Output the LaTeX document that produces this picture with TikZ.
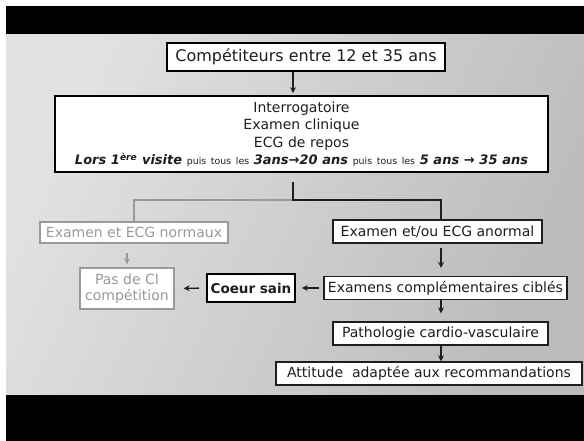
\documentclass[tikz,border=0pt]{standalone}
\usepackage{fontspec}
\setmainfont{DejaVu Sans}
\usepackage{tikz}
\usetikzlibrary{arrows.meta, positioning, calc}

\definecolor{panelLight}{HTML}{E2E2E2}
\definecolor{panelDark}{HTML}{BBBBBB}
\definecolor{inkDark}{HTML}{1E1E1E}
\definecolor{inkGrey}{HTML}{999999}

\tikzstyle{mainbox} = [
  rectangle, draw=black, fill=white, line width=1.7pt,
  text=inkDark, inner sep=0pt,
  font=\fontsize{16}{18}\selectfont
]
\tikzstyle{stepbox} = [
  rectangle, draw=inkDark, fill=white, line width=1.4pt,
  text=inkDark, inner sep=0pt, minimum height=23pt,
  font=\fontsize{14}{16}\selectfont
]
\tikzstyle{greybox} = [stepbox, draw=inkGrey, text=inkGrey, line width=1.3pt]
\tikzstyle{arrow} = [-{Stealth[length=6pt,width=6pt]}, line width=1.3pt, inkDark]
\tikzstyle{greyarrow} = [arrow, inkGrey]

\newcommand{\petit}[1]{{\fontsize{9.4}{10}\selectfont #1}}
\newcommand{\fort}[1]{{\fontsize{13}{15}\selectfont\bfseries\itshape #1}}

\begin{document}
\begin{tikzpicture}[x=1pt, y=-1pt]

  % Slide frame
  \fill[white] (0,0) rectangle (584,441);
  \fill[black] (6,6) rectangle (584,35);
  \shade[left color=panelLight, right color=panelDark, shading angle=65]
    (6,35) rectangle (584,395);
  \fill[black] (6,395) rectangle (584,441);

  % Screening
  \node[mainbox, minimum width=278pt, minimum height=28pt] (age) at (306,57)
    {Compétiteurs entre 12 et 35 ans};
  \node[mainbox, minimum width=493pt, minimum height=76pt, text width=485pt,
        align=center, font=\fontsize{14}{17.5}\selectfont] (bilan) at (301.5,134)
    {Interrogatoire\\Examen clinique\\ECG de repos\\
     \fort{Lors 1\textsuperscript{ère} visite} \petit{puis tous les}
     \fort{3ans→20 ans} \petit{puis tous les} \fort{5 ans → 35 ans}};

  % Normal branch (left)
  \node[greybox, minimum width=188pt, minimum height=21pt] (normal) at (134,232.5)
    {Examen et ECG normaux};
  \node[greybox, minimum width=94pt, minimum height=41pt, align=center] (nonci) at (127,288.5)
    {Pas de CI\\compétition};
  \node[mainbox, minimum width=88pt, minimum height=28pt,
        font=\fontsize{13.5}{16}\selectfont\bfseries] (sain) at (251,288) {Coeur sain};

  % Abnormal branch (right)
  \node[stepbox, minimum width=209pt] (anormal) at (437.5,231.5) {Examen et/ou ECG anormal};
  \node[stepbox, minimum width=243pt] (compl) at (445.5,288) {Examens complémentaires ciblés};
  \node[stepbox, minimum width=215pt] (patho) at (440.5,333.5) {Pathologie cardio-vasculaire};
  \node[stepbox, minimum width=306pt] (attitude) at (429,373.5) {Attitude\ \ adaptée aux recommandations};

  % Junctions
  \coordinate (stem) at (293,182);
  \coordinate (split) at (293,200);
  \coordinate (spine) at (441,200);

  % Connectors
  \draw[arrow, shorten >=2pt] (age.south -| stem) -- (bilan.north -| stem);
  \draw[line width=1.4pt, inkGrey] (split) -| (normal.north);
  \draw[line width=1.5pt, inkDark] (stem) -- (split) -- (spine) -- (anormal.north -| spine);
  \draw[greyarrow, shorten <=9pt, shorten >=3pt] (normal.south -| nonci) -- (nonci.north);
  \draw[arrow, shorten <=7pt, shorten >=9pt] (sain.west) -- (nonci.east);
  \draw[arrow, shorten <=4pt, shorten >=6pt] (compl.west) -- (sain.east);
  \draw[arrow, shorten <=4pt, shorten >=8pt] (anormal.south -| spine) -- (compl.north -| spine);
  \draw[arrow, shorten >=8pt] (compl.south -| spine) -- (patho.north -| spine);
  \draw[arrow] (patho.south -| spine) -- (attitude.north -| spine);

\end{tikzpicture}
\end{document}
